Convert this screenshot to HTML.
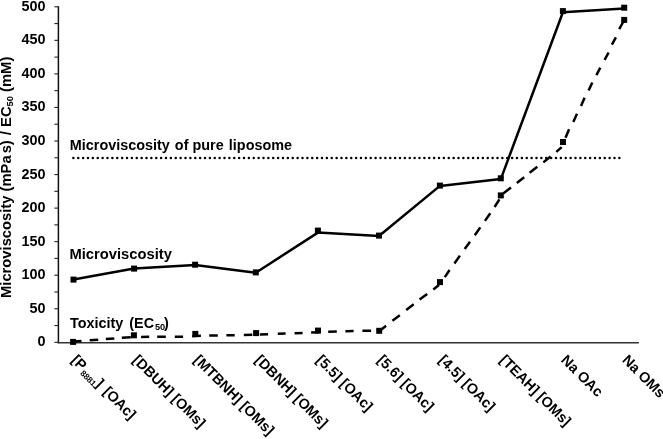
<!DOCTYPE html><html><head><meta charset="utf-8"><title>chart</title><style>html,body{margin:0;padding:0;background:#fff}</style></head><body><svg width="663" height="439" viewBox="0 0 663 439" style="display:block;filter:blur(0.4px)" font-family="Liberation Sans, sans-serif" font-weight="bold" font-size="14.4px" fill="#000">
<rect width="663" height="439" fill="#fff"/>
<g fill="none">
<line x1="58.4" y1="6.30" x2="58.4" y2="343.20" stroke="#111" stroke-width="1.5"/>
<line x1="57.699999999999996" y1="342.7" x2="638.9" y2="342.7" stroke="#333" stroke-width="1.5"/>
<line x1="54.4" y1="342.30" x2="58.4" y2="342.30" stroke="#222" stroke-width="1.1"/>
<line x1="54.4" y1="325.53" x2="58.4" y2="325.53" stroke="#222" stroke-width="1.1"/>
<line x1="54.4" y1="308.75" x2="58.4" y2="308.75" stroke="#222" stroke-width="1.1"/>
<line x1="54.4" y1="291.98" x2="58.4" y2="291.98" stroke="#222" stroke-width="1.1"/>
<line x1="54.4" y1="275.20" x2="58.4" y2="275.20" stroke="#222" stroke-width="1.1"/>
<line x1="54.4" y1="258.43" x2="58.4" y2="258.43" stroke="#222" stroke-width="1.1"/>
<line x1="54.4" y1="241.65" x2="58.4" y2="241.65" stroke="#222" stroke-width="1.1"/>
<line x1="54.4" y1="224.88" x2="58.4" y2="224.88" stroke="#222" stroke-width="1.1"/>
<line x1="54.4" y1="208.10" x2="58.4" y2="208.10" stroke="#222" stroke-width="1.1"/>
<line x1="54.4" y1="191.32" x2="58.4" y2="191.32" stroke="#222" stroke-width="1.1"/>
<line x1="54.4" y1="174.55" x2="58.4" y2="174.55" stroke="#222" stroke-width="1.1"/>
<line x1="54.4" y1="157.78" x2="58.4" y2="157.78" stroke="#222" stroke-width="1.1"/>
<line x1="54.4" y1="141.00" x2="58.4" y2="141.00" stroke="#222" stroke-width="1.1"/>
<line x1="54.4" y1="124.22" x2="58.4" y2="124.22" stroke="#222" stroke-width="1.1"/>
<line x1="54.4" y1="107.45" x2="58.4" y2="107.45" stroke="#222" stroke-width="1.1"/>
<line x1="54.4" y1="90.67" x2="58.4" y2="90.67" stroke="#222" stroke-width="1.1"/>
<line x1="54.4" y1="73.90" x2="58.4" y2="73.90" stroke="#222" stroke-width="1.1"/>
<line x1="54.4" y1="57.12" x2="58.4" y2="57.12" stroke="#222" stroke-width="1.1"/>
<line x1="54.4" y1="40.35" x2="58.4" y2="40.35" stroke="#222" stroke-width="1.1"/>
<line x1="54.4" y1="23.57" x2="58.4" y2="23.57" stroke="#222" stroke-width="1.1"/>
<line x1="54.4" y1="6.80" x2="58.4" y2="6.80" stroke="#222" stroke-width="1.1"/>
</g>
<text x="45.4" y="346.25" text-anchor="end">0</text>
<text x="45.4" y="312.70" text-anchor="end">50</text>
<text x="45.4" y="279.15" text-anchor="end">100</text>
<text x="45.4" y="245.60" text-anchor="end">150</text>
<text x="45.4" y="212.05" text-anchor="end">200</text>
<text x="45.4" y="178.50" text-anchor="end">250</text>
<text x="45.4" y="144.95" text-anchor="end">300</text>
<text x="45.4" y="111.40" text-anchor="end">350</text>
<text x="45.4" y="77.85" text-anchor="end">400</text>
<text x="45.4" y="44.30" text-anchor="end">450</text>
<text x="45.4" y="10.75" text-anchor="end">500</text>
<text transform="translate(11.3,298) rotate(-90)" font-size="14.75px">Microviscosity (mPa <tspan dx="-2.1">s)</tspan><tspan dx="1"> / EC</tspan><tspan font-size="9.4px" dy="2">50</tspan><tspan dy="-2"> (mM)</tspan></text>
<line x1="73.36" y1="158" x2="619.6" y2="158" stroke="#000" stroke-width="2.5" stroke-linecap="round" stroke-dasharray="0.01 4.865"/>
<polyline points="73.5,279.6 134.1,268.6 195.1,265.0 255.8,272.7 317.9,232.6 379.0,236.0 439.9,185.9 500.8,179.1 562.9,12.3 624.2,8.6" fill="none" stroke="#000" stroke-width="2.5" stroke-linejoin="round"/>
<path d="M73.5,341.58L81.5,340.96M89.7,340.33L98.2,339.68M105.8,339.09L114.3,338.43M121.8,337.86L130.8,337.17M141.1,336.89L149.2,336.87M157.2,336.86L165.8,336.84M174.8,336.82L183.1,336.81M192.2,336.18L200.9,335.73M209.2,335.61L217.8,335.48M226.4,335.35L234.7,335.16M243.8,334.90L252.3,334.64M259.9,334.42L268.1,334.15M277.8,333.81L285.6,333.54M294.6,333.22L302.6,332.89M311.1,332.52L319.4,332.16M328.2,331.77L336.8,331.47M345.4,331.24L353.6,331.03M362.4,330.79L371.1,330.78M379.2,331.2L386.1,325.8M392.4,320.7L399.8,315.2M406.2,309.9L413.7,304.3M419.6,299.5L427.2,293.9M433.3,289.5L439.0,285.0M444.8,277.1L449.6,270.0M454.4,263.5L459.9,255.6M464.7,249.1L470.0,241.7M474.8,235.3L480.3,227.4M485.0,220.9L490.3,213.2M494.6,207.0L499.4,199.4M503.2,193.6L511.0,187.6M516.8,182.9L524.2,177.3M529.6,172.7L537.3,166.7M543.3,162.4L550.6,156.5M556.3,151.9L561.7,147.1M565.5,137.8L569.1,129.2M573.3,121.9L577.0,113.7M581.0,106.1L584.6,97.7M588.6,90.4L592.3,82.4M596.4,75.1L600.3,67.6M604.6,59.8L608.6,52.5M611.9,44.7L615.9,37.4M619.2,29.2L623.7,21.0" fill="none" stroke="#000" stroke-width="2.5"/>
<rect x="70.5" y="276.6" width="6" height="6"/>
<rect x="131.1" y="265.6" width="6" height="6"/>
<rect x="192.1" y="261.7" width="6" height="6"/>
<rect x="252.8" y="269.4" width="6" height="6"/>
<rect x="314.9" y="227.6" width="6" height="6"/>
<rect x="376.0" y="232.6" width="6" height="6"/>
<rect x="436.9" y="182.6" width="6" height="6"/>
<rect x="497.8" y="175.3" width="6" height="6"/>
<rect x="559.9" y="8.1" width="6" height="6"/>
<rect x="621.2" y="4.7" width="6" height="6"/>
<rect x="70.1" y="338.9" width="6" height="6"/>
<rect x="130.9" y="332.3" width="6" height="6"/>
<rect x="192.3" y="330.9" width="6" height="6"/>
<rect x="253.1" y="330.1" width="6" height="6"/>
<rect x="315.0" y="327.6" width="6" height="6"/>
<rect x="376.2" y="327.8" width="6" height="6"/>
<rect x="437.0" y="279.1" width="6" height="6"/>
<rect x="497.8" y="192.4" width="6" height="6"/>
<rect x="560.0" y="139.0" width="6" height="6"/>
<rect x="621.2" y="16.9" width="6" height="6"/>
<text x="69.8" y="149.7">Microviscosity<tspan dx="1.1"> of pure</tspan><tspan dx="1.2"> liposome</tspan></text>
<text x="69.4" y="259.4" font-size="14.75px">Microviscosity</text>
<text x="70" y="327.5">Toxicity <tspan dx="2">(EC</tspan><tspan font-size="9.2px" dy="2" dx="0.8">50</tspan><tspan dy="-2" dx="-1.2">)</tspan></text>
<text transform="translate(70.7,360.8) rotate(45)">[P<tspan font-size="8.3px" dy="2.8" dx="1.2">8881</tspan><tspan dy="-2.8">]</tspan><tspan dx="2"> [OAc]</tspan></text>
<text transform="translate(131.9,360.8) rotate(45)">[DBUH] [OMs]</text>
<text transform="translate(193.1,360.8) rotate(45)">[MTBNH] [OMs]</text>
<text transform="translate(254.3,360.8) rotate(45)">[DBNH] [OMs]</text>
<text transform="translate(315.5,360.8) rotate(45)">[5.5] [OAc]</text>
<text transform="translate(376.7,360.8) rotate(45)">[5.6] [OAc]</text>
<text transform="translate(437.9,360.8) rotate(45)">[4.5] [OAc]</text>
<text transform="translate(499.1,360.8) rotate(45)">[TEAH] [OMs]</text>
<text transform="translate(560.3,360.8) rotate(45)">Na OAc</text>
<text transform="translate(621.5,360.8) rotate(45)">Na OMs</text>
</svg></body></html>
